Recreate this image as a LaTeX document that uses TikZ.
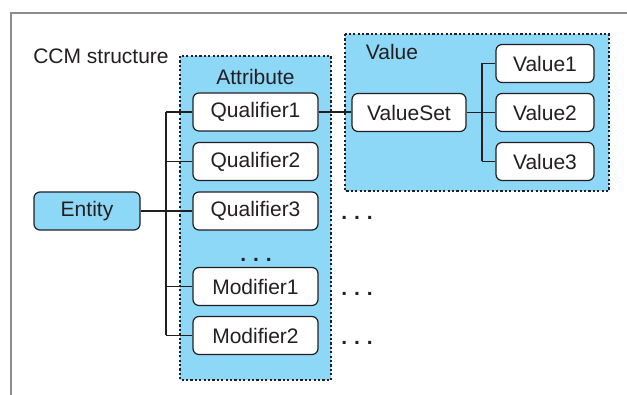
\documentclass[tikz,border=0pt]{standalone}
\usepackage{fontspec}
\setmainfont{Liberation Sans}
\definecolor{ccmblue}{RGB}{142,216,247}
\definecolor{ccmline}{RGB}{35,31,32}
\definecolor{framegray}{RGB}{140,140,140}
\begin{document}
\begin{tikzpicture}[x=1pt,y=-1pt,
  every node/.style={font=\fontsize{21}{24}\selectfont, text=ccmline},
  box/.style={draw=ccmline, line width=1.2pt, rounded corners=6pt, fill=white,
    minimum height=38pt, inner sep=0pt, anchor=center},
  container/.style={draw=ccmline, line width=1.1pt, dash pattern=on 2.2pt off 2.2pt, fill=ccmblue},
  conn/.style={draw=ccmline, line width=1.1pt},
  dots/.style={font=\fontsize{21}{24}\selectfont\bfseries}]
\useasboundingbox (0,0) rectangle (627,395);
% frame
\draw[framegray, line width=1.6pt] (11,395) -- (11,13) -- (627,13);
\node[anchor=center] (title) at (101,56) {CCM structure};
% containers
\path[container] (180,56) rectangle (331,380);
\path[container] (345,34) rectangle (609,191);
\node (attrlabel) at (255.5,77) {Attribute};
\node (vallabel) at (392,52) {Value};
% nodes
\node[box, fill=ccmblue, minimum width=106pt] (entity) at (87,211) {Entity};
\node[box, minimum width=125pt] (q1) at (255.5,112) {Qualifier1};
\node[box, minimum width=125pt] (q2) at (255.5,161.5) {Qualifier2};
\node[box, minimum width=125pt] (q3) at (255.5,211) {Qualifier3};
\node[box, minimum width=125pt] (m1) at (255.5,286.5) {Modifier1};
\node[box, minimum width=125pt] (m2) at (255.5,335.5) {Modifier2};
\node[box, minimum width=114pt] (vs) at (409,112.5) {ValueSet};
\node[box, minimum width=98pt] (v1) at (545,63.5) {Value1};
\node[box, minimum width=98pt] (v2) at (545,112.5) {Value2};
\node[box, minimum width=98pt] (v3) at (545,161.5) {Value3};
% dots
\node[dots] (d0) at (256,260) {.\,\,.\,\,.};
\node[dots] (d1) at (357,218) {.\,\,.\,\,.};
\node[dots] (d2) at (357,294) {.\,\,.\,\,.};
\node[dots] (d3) at (357,343) {.\,\,.\,\,.};
% trunks
\coordinate (t1) at (166,0);
\coordinate (t2) at (482,0);
\draw[conn] (entity.east) -- (entity.east -| t1);
\draw[conn] (q1.west -| t1) -- (m2.west -| t1);
\foreach \n in {q1,q2,q3,m1,m2} \draw[conn] (\n.west -| t1) -- (\n.west);
\draw[conn] (q1.east) -- (q1.east -| vs.west);
\draw[conn] (vs.east) -- (vs.east -| t2);
\draw[conn] (v1.west -| t2) -- (v3.west -| t2);
\foreach \n in {v1,v2,v3} \draw[conn] (\n.west -| t2) -- (\n.west);
\end{tikzpicture}
\end{document}
